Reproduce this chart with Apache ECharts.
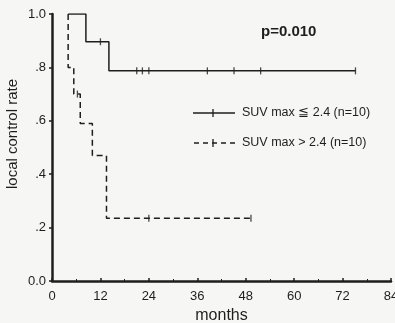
<!DOCTYPE html>
<html><head><meta charset="utf-8">
<script src="https://cdn.jsdelivr.net/npm/echarts@6/dist/echarts.min.js"></script>
<style>html,body{margin:0;padding:0;background:#f6f6f4}#c{width:395px;height:323px}</style>
</head><body><div id="c"></div>
<script>
// data
const lowTimes = [4, 8.4, 14.1, 75.2];
const lowRates = [1.0, 0.896, 0.787, 0.787];
const lowCensorTimes = [12, 21, 22.4, 24, 38.5, 45.1, 51.7, 75.2];
const lowCensorRates = [0.896, 0.787, 0.787, 0.787, 0.787, 0.787, 0.787, 0.787];
const highTimes = [4, 4, 5.4, 7.0, 10.0, 13.5, 49.3];
const highRates = [1.0, 0.8, 0.70, 0.59, 0.47, 0.235, 0.235];
const highCensorTimes = [6.3, 24, 49.3];
const highCensorRates = [0.70, 0.235, 0.235];
const xTicks = [0, 12, 24, 36, 48, 60, 72, 84];
const yTickLabels = {0: '0.0', 0.2: '.2', 0.4: '.4', 0.6: '.6', 0.8: '.8', 1: '1.0'};
const legendLabels = ['SUV max \u2266 2.4 (n=10)', 'SUV max > 2.4 (n=10)'];
const yTitle = 'local control rate';
const xTitle = 'months';
const pText = 'p=0.010';

const ink = '#1e1e1e';
const font = 'Liberation Sans, Arial, sans-serif';
const zip = (a, b) => a.map((v, i) => [v, b[i]]);

const chart = echarts.init(document.getElementById('c'));
chart.setOption({
  backgroundColor: '#f6f6f4',
  animation: false,
  grid: {left: 52, right: 4, top: 14, bottom: 42, containLabel: false, outerBoundsMode: 'none'},
  xAxis: {
    type: 'value', min: 0, max: 84, interval: 12,
    name: xTitle, nameLocation: 'middle', nameGap: 27,
    nameTextStyle: {color: ink, fontSize: 16, fontFamily: font},
    axisLine: {lineStyle: {color: ink, width: 2.5}},
    axisTick: {show: true, inside: true, length: 3, lineStyle: {color: ink, width: 1.5}},
    minorTick: {show: true, splitNumber: 2, length: 2, lineStyle: {color: ink}},
    axisLabel: {color: ink, fontSize: 13, fontFamily: font, margin: 9},
    splitLine: {show: false}
  },
  yAxis: {
    type: 'value', min: 0, max: 1, interval: 0.2,
    axisLine: {show: true, lineStyle: {color: ink, width: 2.5}},
    axisTick: {show: true, length: 3, lineStyle: {color: ink, width: 1.5}},
    axisLabel: {color: ink, fontSize: 13, fontFamily: font, margin: 6,
      formatter: v => yTickLabels[Math.round(v * 10) / 10] || ''},
    splitLine: {show: false}
  },
  series: [
    {type: 'line', step: 'end', data: zip(lowTimes, lowRates), showSymbol: false,
      lineStyle: {color: ink, width: 1.5}},
    {type: 'line', step: 'end', data: zip(highTimes, highRates), showSymbol: false,
      lineStyle: {color: ink, width: 1.5, type: [6, 4]}},
    {type: 'scatter', data: zip(lowCensorTimes, lowCensorRates), symbol: 'rect', symbolSize: [1.3, 7],
      itemStyle: {color: ink}},
    {type: 'scatter', data: zip(highCensorTimes, highCensorRates), symbol: 'rect', symbolSize: [1.3, 7],
      itemStyle: {color: ink}}
  ],
  graphic: [
    {type: 'text', x: 13, y: 134, rotation: Math.PI / 2,
      style: {text: yTitle, font: '15px ' + font, fill: ink, align: 'center', verticalAlign: 'middle'}},
    {type: 'text', left: 261, top: 24, style: {text: pText, font: 'bold 15px ' + font, fill: ink}},
    {type: 'line', shape: {x1: 193, y1: 113, x2: 235, y2: 113}, style: {stroke: ink, lineWidth: 1.5}},
    {type: 'line', shape: {x1: 213, y1: 109, x2: 213, y2: 117}, style: {stroke: ink, lineWidth: 1.3}},
    {type: 'text', left: 242, top: 106, style: {text: legendLabels[0], font: '12.5px ' + font, fill: ink}},
    {type: 'line', shape: {x1: 194, y1: 143, x2: 235, y2: 143}, style: {stroke: ink, lineWidth: 1.5, lineDash: [5, 4]}},
    {type: 'line', shape: {x1: 213, y1: 139, x2: 213, y2: 147}, style: {stroke: ink, lineWidth: 1.3}},
    {type: 'text', left: 242, top: 136, style: {text: legendLabels[1], font: '12.5px ' + font, fill: ink}}
  ]
});
</script></body></html>
